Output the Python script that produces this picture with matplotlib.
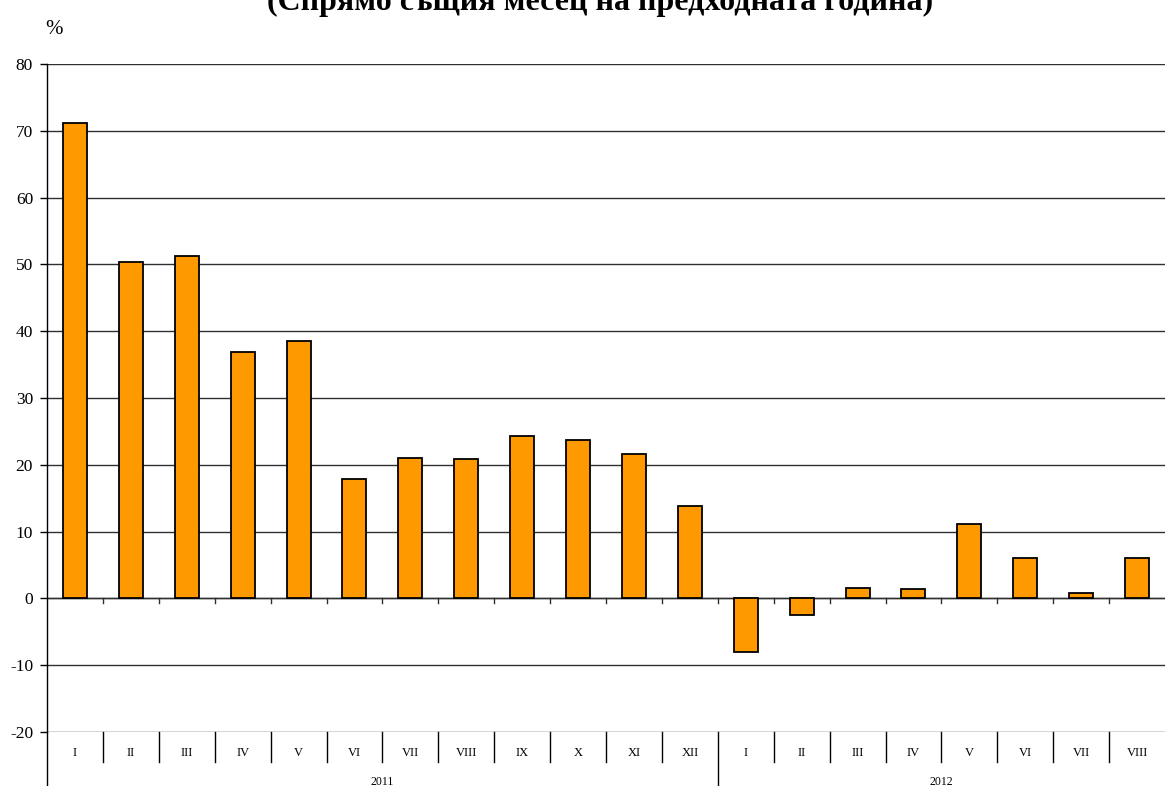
import matplotlib
matplotlib.use("Agg")
import matplotlib.pyplot as plt
from matplotlib.lines import Line2D

months = ["I", "II", "III", "IV", "V", "VI", "VII", "VIII", "IX", "X", "XI", "XII",
          "I", "II", "III", "IV", "V", "VI", "VII", "VIII"]
years = ["2011", "2012"]
year_counts = [12, 8]
values = [71.1, 50.4, 51.3, 36.9, 38.5, 17.9, 21.0, 20.9, 24.3, 23.7, 21.6, 13.8,
          -8.0, -2.5, 1.5, 1.35, 11.2, 6.1, 0.8, 6.1]
yticks = [-20, -10, 0, 10, 20, 30, 40, 50, 60, 70, 80]
title = "(Спрямо същия месец на предходната година)"

plt.rcParams['font.family'] = ['Liberation Serif', 'DejaVu Serif']

W, H = 1167, 786
fig = plt.figure(figsize=(W / 100, H / 100), dpi=100)
ax = fig.add_axes([47 / W, 1 - 732 / H, (1165 - 47) / W, (732 - 64) / H])

n = len(values)
x = list(range(n))
ax.bar(x, values, width=0.43, color="#FF9900", edgecolor="black", linewidth=1.3, zorder=3)

ax.set_xlim(-0.5, n - 0.5)
ax.set_ylim(-20, 80)
ax.set_yticks(yticks)
ax.set_yticklabels([str(v) for v in yticks], fontsize=12.5)
ax.yaxis.grid(True, color="#303030", linewidth=1.0, zorder=0)
ax.set_axisbelow(True)
ax.set_xticks([])
for s in ["top", "right", "bottom"]:
    ax.spines[s].set_visible(False)
ax.spines["left"].set_linewidth(1.0)
ax.tick_params(axis="y", direction="out", length=5, width=1, pad=5)

# zero line with downward ticks
ax.axhline(0, color="#303030", linewidth=1.0, zorder=2)
for k in range(1, n):
    ax.plot([k - 0.5, k - 0.5], [0, -0.7], color="#303030", linewidth=1.0, zorder=2)

trans = ax.get_xaxis_transform()
axh = 732 - 64
boundaries = []
c = 0
for cnt in year_counts:
    c += cnt
    boundaries.append(c)
for k in range(1, n):
    depth = 30 / axh
    if k in boundaries:
        depth = 60 / axh
    ax.add_line(Line2D([k - 0.5, k - 0.5], [0, -depth], transform=trans, color="black",
                       linewidth=1.0, clip_on=False))
ax.add_line(Line2D([-0.5, -0.5], [0, -60 / axh], transform=trans, color="black",
                   linewidth=1.0, clip_on=False))

for i, m in enumerate(months):
    ax.text(i, -21 / axh, m, transform=trans, ha="center", va="center", fontsize=9)

start = 0
for yr, cnt in zip(years, year_counts):
    center = start + (cnt - 1) / 2
    ax.text(center, -50 / axh, yr, transform=trans, ha="center", va="center", fontsize=8.5)
    start += cnt

fig.text(45 / W, 1 - 30 / H, "%", ha="left", va="center", fontsize=15)
fig.text(600 / W, 1 - 10 / H, title, ha="center", va="baseline", fontsize=23, fontweight="bold")

fig.savefig("out.png", dpi=100)
